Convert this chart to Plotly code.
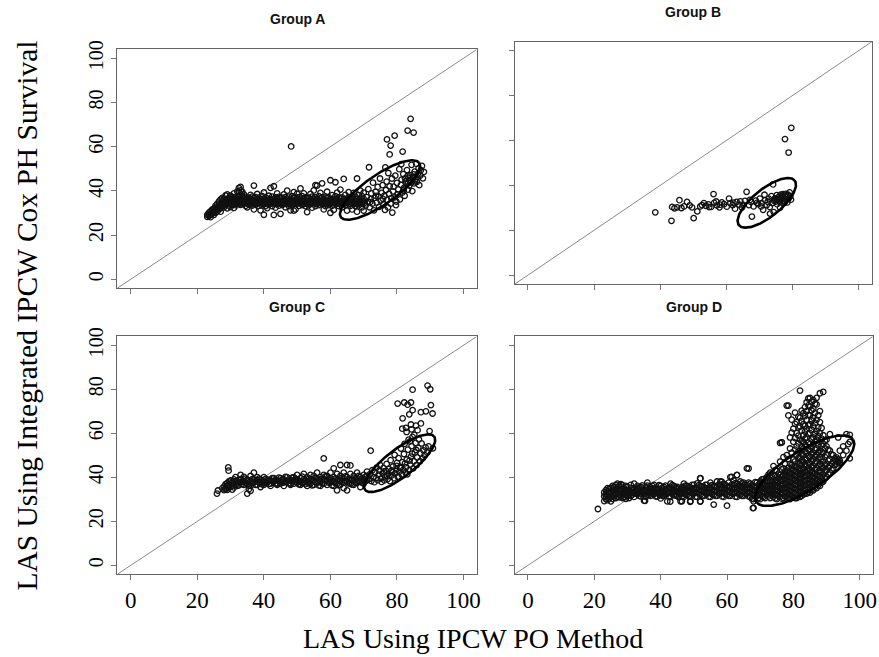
import numpy as np
import plotly.graph_objects as go

W, H = 879, 657
AX_RANGE = [-4, 104]
TICKS = [0, 20, 40, 60, 80, 100]
TICK_TEXT = ["0", "20", "40", "60", "80", "100"]
TITLES = ["Group A", "Group B", "Group C", "Group D"]
X_TITLE = "LAS Using IPCW PO Method"
Y_TITLE = "LAS Using Integrated IPCW Cox PH Survival"

# ---------------- data ----------------
# dense bands: (x, [y values]) ; spread regions: (x, y) pairs

A_BAND = [
    (23, [28.2, 29.1]), (23.5, [28.6, 30.2, 29.4]), (24, [29.3, 30.8, 28.1]),
    (24.5, [29.8, 31.6, 30.5]), (25, [30.4, 32.1, 29.2, 31.3]), (25.5, [31.2, 33.3, 30.1]),
    (26, [30.7, 32.6, 34.1, 31.8]), (26.5, [31.6, 33.4, 35.2, 32.5]),
    (27, [32.2, 34.3, 30.6, 36.1, 33.1]), (27.5, [33.2, 35.1, 36.8, 34.2]),
    (28, [32.6, 34.7, 36.3, 33.8, 35.6]), (28.5, [33.6, 35.4, 37.9, 34.5]),
    (29, [32.1, 34.2, 36.2, 38.4, 35.3]), (29.5, [33.3, 35.2, 36.9, 34.1]),
    (30, [34.1, 36.3, 32.7, 37.8, 35.4]), (30.5, [33.7, 35.8, 37.2, 34.6]),
    (31, [34.6, 36.4, 32.3, 38.9, 35.5]), (31.5, [35.2, 36.8, 33.6, 34.3]),
    (32, [34.2, 36.1, 37.7, 39.8, 35.1]), (32.5, [35.3, 37.4, 39.6, 41.3, 36.2, 34.1]),
    (33, [33.7, 36.2, 38.3, 41.8, 35.1, 40.2]), (33.5, [35.2, 36.9, 39.7, 34.3, 37.8]),
    (34, [34.3, 36.6, 38.4, 35.4]), (34.5, [33.2, 35.7, 37.3, 34.6]),
    (35, [34.8, 36.2, 32.6, 35.6]), (35.5, [35.1, 36.9, 33.7, 34.2]),
    (36, [34.1, 36.3, 38.2, 35.2]), (36.5, [35.6, 33.3, 37.4, 34.7]),
    (37, [34.4, 36.7, 31.6, 42.4, 35.5]), (37.5, [35.3, 37.2, 33.8, 34.1]),
    (38, [34.2, 36.1, 38.6, 35.3]), (38.5, [35.7, 33.2, 36.8, 34.6]),
    (39, [34.6, 36.4, 31.2, 35.4]), (39.5, [35.2, 37.6, 33.4, 34.3]),
    (40, [34.1, 36.2, 39.3, 29.2, 35.3]), (40.5, [35.4, 33.1, 37.1, 34.4]),
    (41, [34.7, 36.6, 32.2, 35.6]), (41.5, [35.1, 37.8, 33.7, 34.2]),
    (42, [34.3, 36.2, 41.4, 35.4]), (42.5, [35.6, 33.1, 37.4, 34.5]),
    (43, [34.5, 36.3, 42.1, 29.1, 35.3]), (43.5, [35.2, 37.1, 32.4, 34.1]),
    (44, [34.1, 36.4, 38.9, 35.2]), (44.5, [35.7, 33.3, 37.3, 34.5]),
    (45, [34.4, 36.6, 29.6, 35.4]), (45.5, [35.1, 36.9, 33.6, 34.2]),
    (46, [34.2, 36.1, 38.4, 35.2]), (46.5, [35.5, 32.6, 37.2, 34.3]),
    (47, [34.6, 36.4, 40.1, 35.5]), (47.5, [35.2, 37.4, 33.1, 34.1]),
    (48, [34.1, 36.2, 31.2, 35.3]), (48.5, [35.6, 33.6, 37.6, 34.4]),
    (49, [34.3, 36.7, 39.4, 31.1, 35.4]), (49.5, [35.1, 37.1, 31.6, 34.2]),
    (50, [34.2, 36.1, 38.7, 35.3]), (50.5, [35.4, 33.2, 37.2, 34.5]),
    (51, [34.7, 36.4, 41.1, 35.6]), (51.5, [35.2, 37.6, 33.6, 34.1]),
    (52, [34.1, 36.2, 38.9, 35.2]), (52.5, [35.6, 33.1, 37.1, 34.4]),
    (53, [34.4, 36.6, 30.4, 35.4]), (53.5, [35.1, 36.9, 33.4, 34.2]),
    (54, [34.2, 36.1, 38.6, 35.3]), (54.5, [35.7, 32.4, 37.4, 34.6]),
    (55, [34.6, 36.4, 40.2, 35.4]), (55.5, [35.2, 37.2, 33.1, 42.6, 34.1]),
    (56, [34.1, 36.2, 42.4, 35.2]), (56.5, [35.4, 33.6, 37.6, 34.5]),
    (57, [34.6, 36.6, 39.1, 35.5]), (57.5, [35.1, 37.1, 43.4, 34.2]),
    (58, [34.2, 36.1, 31.6, 35.3]), (58.5, [35.5, 33.1, 37.4, 34.4]),
    (59, [34.4, 36.7, 39.6, 35.4]), (59.5, [35.2, 37.2, 33.6, 34.1]),
    (60, [34.1, 36.3, 44.8, 30.1, 35.2]), (60.5, [35.6, 33.2, 38.1, 34.5]),
    (61, [34.6, 36.4, 31.4, 35.6]), (61.5, [35.1, 37.6, 43.9, 34.2]),
    (62, [34.2, 36.1, 39.2, 35.3]), (62.5, [35.5, 33.1, 37.1, 34.4]),
    (63, [34.4, 36.6, 40.6, 35.4]), (63.5, [35.2, 37.1, 32.6, 34.1]),
    (64, [34.1, 36.2, 45.4, 35.2]), (64.5, [35.6, 33.6, 38.2, 34.5]),
    (65, [34.6, 36.5, 31.1, 35.6]), (65.5, [35.1, 37.2, 39.4, 34.2]),
    (66, [34.2, 36.6, 33.2, 35.4]), (66.5, [35.4, 37.6, 31.6, 34.4]),
    (67, [34.5, 36.1, 39.1, 35.5]), (67.5, [35.2, 37.4, 33.1, 34.1]),
    (68, [34.1, 36.4, 45.6, 30.6, 35.2]), (68.5, [35.6, 38.1, 33.4, 34.4]),
    (69, [34.6, 36.6, 40.1, 35.4]), (69.5, [35.1, 37.6, 32.6, 34.2]),
    (70, [34.2, 36.4, 39.2, 31.1, 35.3]),
]
A_SPREAD = [
    (70.6, 33.4), (70.9, 37.2), (71.3, 35.1), (71.4, 40.8), (71.8, 32.6), (72.1, 36.3),
    (72.3, 38.9), (72.6, 34.2), (72.8, 43.7), (73.1, 31.2), (73.3, 36.8), (73.6, 39.6),
    (73.9, 34.7), (74.2, 41.8), (74.4, 37.5), (74.6, 32.8), (74.9, 45.6), (75.1, 35.6),
    (75.4, 39.1), (75.7, 42.6), (75.9, 33.9), (76.2, 37.8), (76.4, 31.4), (76.7, 40.4),
    (76.9, 44.2), (77.1, 35.9), (77.4, 48.1), (77.6, 38.7), (77.8, 42.1), (78.1, 34.2),
    (78.3, 36.7), (78.5, 45.6), (78.8, 39.8), (79.0, 41.9), (79.3, 37.1), (79.5, 46.9),
    (79.7, 33.6), (80.0, 43.6), (80.2, 38.4), (80.4, 40.7), (80.7, 49.8), (80.9, 36.2),
    (81.2, 42.7), (81.4, 45.1), (81.6, 39.2), (81.9, 47.6), (82.1, 41.3), (82.3, 37.8),
    (82.6, 44.2), (82.8, 43.1), (83.0, 49.4), (83.3, 40.6), (83.5, 45.9), (83.7, 42.4),
    (84.0, 47.1), (84.2, 44.6), (84.4, 51.8), (84.6, 39.9), (84.9, 46.3), (85.1, 43.4),
    (85.3, 48.7), (85.6, 45.2), (85.8, 52.3), (86.0, 44.1), (86.3, 47.8), (86.5, 50.2),
    (86.7, 42.6), (87.0, 46.9), (87.2, 49.4), (87.5, 51.3), (87.8, 45.7), (88.1, 48.6),
    (83.8, 44.9), (84.8, 45.8), (85.4, 44.3), (83.2, 46.8), (82.4, 45.7), (86.1, 46.2),
    (79.8, 35.2), (77.3, 32.5), (75.8, 36.4), (73.7, 37.7), (71.9, 34.9), (76.5, 50.6),
    (81.3, 52.1), (78.6, 30.2), (84.3, 43.8), (85.0, 47.5), (83.4, 43.7), (82.0, 40.2),
    (48.2, 60.1), (84.1, 72.6), (83.2, 67.3), (85.0, 66.4), (77.0, 63.3), (79.3, 65.0),
    (78.1, 60.5), (81.7, 57.8), (77.8, 56.5), (71.6, 50.7),
]

B_BAND = []
B_SPREAD = [
    (38.5, 28.0), (43.4, 24.2), (43.6, 30.4), (44.3, 29.8), (45.1, 30.2), (45.8, 33.4),
    (46.4, 29.9), (47.2, 30.6), (48.1, 32.6), (48.9, 31.1), (50.1, 25.4), (51.2, 28.4),
    (52.1, 30.6), (53.2, 32.1), (53.8, 30.9), (54.6, 31.5), (55.4, 30.4), (56.1, 36.1),
    (56.3, 32.2), (57.1, 31.1), (57.9, 30.2), (58.6, 32.4), (59.3, 31.6), (60.1, 30.5),
    (60.8, 34.1), (61.2, 32.1), (61.9, 31.2), (62.6, 29.6), (63.1, 32.6), (63.9, 31.4),
    (64.7, 30.1), (65.6, 33.1), (66.1, 37.1), (66.8, 31.2), (67.4, 32.6), (67.7, 26.1),
    (68.2, 30.6), (68.9, 33.2), (69.6, 31.6), (70.1, 34.1), (70.6, 32.1), (71.1, 29.1),
    (71.7, 33.4), (72.2, 31.2), (72.8, 34.1), (73.1, 30.4), (73.2, 27.4), (73.6, 35.2),
    (73.9, 32.1), (74.1, 40.4), (74.3, 28.1), (74.4, 33.1), (74.7, 34.2), (74.9, 32.8),
    (75.2, 35.6), (75.3, 31.6), (75.6, 33.6), (75.8, 34.8), (76.1, 32.6), (76.2, 30.1),
    (76.5, 33.9), (76.7, 35.2), (76.9, 33.1), (77.1, 36.1), (77.3, 34.4), (77.5, 32.2),
    (77.6, 35.4), (77.8, 33.6), (78.0, 36.2), (78.2, 34.9), (78.4, 32.4), (78.6, 35.8),
    (78.8, 34.1), (79.1, 36.9), (79.3, 35.1), (79.5, 33.6), (74.6, 34.0), (75.9, 33.2),
    (77.0, 34.6), (76.4, 35.9), (75.4, 33.9), (77.9, 35.1), (54.8, 30.3), (52.6, 31.2),
    (49.6, 30.2), (56.9, 32.8), (58.1, 31.4), (62.1, 32.3), (64.2, 32.9), (65.1, 31.3),
    (67.1, 33.5), (69.2, 32.2), (70.5, 30.6), (72.5, 32.7), (71.5, 35.8),
    (77.7, 60.6), (79.6, 65.6), (78.8, 54.6),
]

C_BAND = [
    (28, [34.2, 35.8]), (28.5, [35.1, 36.9, 34.6]), (29, [34.3, 36.2, 37.4]),
    (29.5, [35.2, 36.6, 38.1]), (30, [35.7, 37.1, 38.6]), (30.5, [36.2, 37.6, 34.4]),
    (31, [35.4, 37.2, 39.1]), (31.5, [36.6, 38.2, 40.1]), (32, [37.1, 38.4, 36.1]),
    (32.5, [36.4, 38.9, 37.6]), (33, [37.6, 39.2, 41.1]), (33.5, [36.9, 38.1]),
    (34, [36.6, 38.2, 40.2]), (34.5, [37.4, 39.4]), (35, [37.1, 38.9, 32.6]),
    (35.5, [36.2, 38.6, 34.6]), (36, [38.1, 36.1, 40.6, 33.9]), (36.5, [37.3, 39.2]),
    (37, [37.6, 39.1, 42.1]), (37.5, [38.4, 36.6]), (38, [36.6, 38.6, 40.1]),
    (38.5, [37.7, 39.4]), (39, [37.1, 39.1, 35.6]), (39.5, [38.3, 36.8]),
    (40, [38.1, 36.6, 40.1]), (40.5, [37.4, 39.3]), (41, [37.6, 39.1]),
    (41.5, [38.4, 36.9]), (42, [37.1, 38.6, 36.1]), (42.5, [38.2, 39.6]),
    (43, [38.1, 39.6]), (43.5, [37.2, 38.8]), (44, [37.1, 38.6, 36.6]),
    (44.5, [38.4, 39.9]), (45, [38.1, 39.6, 37.1]), (45.5, [37.6, 38.9]),
    (46, [37.6, 39.1, 36.1]), (46.5, [38.3, 40.2]), (47, [38.1, 40.1]),
    (47.5, [37.4, 39.1]), (48, [37.1, 38.6, 36.6]), (48.5, [38.4, 39.8]),
    (49, [38.6, 40.1, 37.1]), (49.5, [37.8, 39.4]), (50, [37.6, 39.1, 41.1]),
    (50.5, [38.3, 36.8]), (51, [38.1, 36.6, 39.6]), (51.5, [37.4, 40.3]),
    (52, [37.6, 39.1, 41.6]), (52.5, [38.6, 36.9]), (53, [38.1, 40.1, 36.1]),
    (53.5, [37.3, 39.4]), (54, [37.1, 39.1, 41.1]), (54.5, [38.2, 36.4]),
    (55, [38.6, 40.6, 36.6]), (55.5, [37.8, 39.7]), (56, [37.6, 39.6, 42.1]),
    (56.5, [38.7, 36.3]), (57, [38.1, 40.1, 36.1]), (57.5, [37.2, 39.3]),
    (58, [37.1, 39.1, 41.1, 48.6]), (58.5, [38.4, 40.4]), (59, [38.6, 40.6, 36.6]),
    (59.5, [37.6, 39.2]), (60, [37.6, 39.6, 42.1]), (60.5, [38.3, 36.4]),
    (61, [38.1, 40.1, 36.1, 44.1]), (61.5, [37.4, 39.4]), (62, [37.1, 39.1, 34.1, 41.6]),
    (62.5, [38.6, 36.6]), (63, [38.6, 40.6, 36.6, 45.6]), (63.5, [37.8, 39.7]),
    (64, [37.6, 39.6, 42.1, 35.1]), (64.5, [38.4, 40.4]), (65, [38.1, 40.1, 34.1, 45.6]),
    (65.5, [37.2, 39.2]), (66, [37.1, 39.1, 41.6, 45.4]), (66.5, [38.7, 36.7]),
    (67, [38.6, 40.6, 36.6]), (67.5, [37.6, 39.6]), (68, [37.6, 39.6, 42.1]),
    (68.5, [38.4, 40.6]), (69, [38.1, 40.1, 35.6]), (69.5, [37.6, 39.3]),
    (70, [39.1, 41.1, 37.1]), (70.5, [38.2, 40.2]), (71, [38.6, 40.6, 42.6]),
]
C_SPREAD = [
    (25.9, 32.6), (26.2, 34.0), (27.5, 35.0), (29.3, 44.5), (29.4, 43.0),
    (71.6, 39.2), (71.9, 41.4), (72.1, 52.1), (72.3, 38.3), (72.6, 43.2), (72.9, 40.1),
    (73.2, 37.8), (73.4, 42.3), (73.7, 39.6), (73.9, 44.4), (74.2, 38.7), (74.5, 41.2),
    (74.7, 43.1), (74.9, 45.6), (75.2, 39.4), (75.4, 37.9), (75.7, 41.8), (75.9, 44.2),
    (76.2, 38.6), (76.4, 40.4), (76.7, 42.9), (76.9, 46.1), (77.2, 39.2), (77.4, 41.6),
    (77.6, 43.8), (77.9, 38.3), (78.1, 47.8), (78.3, 40.8), (78.6, 42.4), (78.8, 44.9),
    (79.1, 39.6), (79.3, 50.2), (79.5, 41.9), (79.8, 43.6), (80.0, 46.6), (80.2, 40.3),
    (80.5, 48.7), (80.7, 42.6), (80.9, 44.5), (81.2, 53.1), (81.4, 41.3), (81.6, 46.9),
    (81.9, 43.4), (82.1, 50.6), (82.3, 55.2), (82.6, 42.1), (82.8, 44.6), (83.0, 48.1),
    (83.3, 52.6), (83.5, 57.1), (83.7, 43.3), (84.0, 45.8), (84.2, 49.4), (84.4, 54.2),
    (84.7, 58.4), (84.9, 44.1), (85.1, 47.2), (85.4, 51.3), (85.6, 55.6), (85.9, 45.6),
    (86.1, 49.1), (86.4, 53.4), (86.6, 57.2), (86.9, 47.3), (87.1, 50.9), (87.4, 55.4),
    (87.7, 48.6), (88.0, 52.2), (88.3, 50.1), (88.6, 53.6), (89.1, 51.2), (89.5, 54.1),
    (90.8, 53.2), (81.1, 44.2), (82.4, 46.3), (83.8, 47.6), (84.6, 50.8), (85.8, 52.4),
    (79.9, 45.2), (78.4, 43.1), (77.0, 40.8), (76.1, 42.7), (83.9, 56.3), (85.2, 59.3),
    (82.9, 60.6), (84.4, 61.8), (86.2, 61.4), (81.6, 62.1), (80.6, 40.1), (83.1, 41.4),
    (84.7, 70.5), (89.2, 81.7), (90.0, 80.0), (84.7, 79.8), (80.2, 73.5), (82.2, 74.0),
    (83.2, 73.0), (84.2, 74.0), (90.2, 72.8), (87.2, 69.6), (88.7, 70.0), (90.7, 69.0),
    (83.7, 68.6), (81.7, 66.8), (84.2, 64.0), (85.7, 63.5), (87.2, 64.5), (82.7, 62.5),
    (89.8, 61.0),
]

D_BAND = [
    (23, [29.2, 31.3, 33.1]), (23.5, [30.1, 32.4, 34.2, 31.1]), (24, [29.6, 31.7, 33.6, 35.1]),
    (24.5, [30.4, 32.6, 34.7, 33.2]), (25, [31.1, 33.3, 35.2, 29.1]),
    (25.5, [30.2, 32.1, 34.3, 36.1]), (26, [31.6, 33.7, 35.6, 32.4]),
    (26.5, [30.6, 32.8, 34.4, 36.6]), (27, [31.2, 33.1, 35.3, 37.1]),
    (27.5, [32.2, 34.1, 36.2, 30.9]), (28, [31.4, 33.6, 35.4, 36.9]),
    (28.5, [30.6, 32.4, 34.6, 36.4]), (29, [31.1, 33.2, 35.1, 34.1]),
    (29.5, [32.1, 34.2, 36.1, 30.2]), (30, [31.6, 33.4, 35.6, 32.6]),
    (30.5, [32.2, 34.1, 30.6, 33.3]), (31, [33.1, 35.2, 31.6, 36.6]),
    (31.5, [32.1, 34.3, 33.2]), (32, [33.2, 35.1, 31.1, 37.1]), (32.5, [32.6, 34.4, 33.6]),
    (33, [32.4, 34.6, 36.1, 33.4]), (33.5, [31.6, 33.2, 35.4]),
    (34, [31.4, 33.6, 35.6, 32.6]), (34.5, [32.9, 34.2, 36.3]),
    (35, [32.6, 34.4, 29.4, 33.5]), (35.5, [31.1, 33.4, 35.6]),
    (36, [32.1, 34.1, 36.2, 37.6]), (36.5, [33.2, 34.9, 31.9]),
    (37, [31.6, 33.6, 35.4, 32.7]), (37.5, [32.8, 34.7, 36.1]),
    (38, [32.4, 34.6, 36.6, 33.5]), (38.5, [31.4, 33.3, 35.2]),
    (39, [31.2, 33.1, 35.1, 34.2]), (39.5, [32.3, 34.5, 36.4]),
    (40, [32.1, 34.1, 36.1, 30.4]), (40.5, [33.2, 35.2, 31.6]),
    (41, [31.6, 33.4, 35.6, 32.7]), (41.5, [32.4, 34.4, 36.2]),
    (42, [32.6, 34.6, 29.1, 33.6]), (42.5, [31.3, 33.1, 35.4]),
    (43, [31.1, 33.2, 35.1, 37.1]), (43.5, [32.4, 34.3, 36.4]),
    (44, [32.1, 34.1, 36.1, 33.2]), (44.5, [31.7, 33.6, 35.3]),
    (45, [31.6, 33.5, 35.6, 34.6]), (45.5, [32.6, 34.8, 30.9]),
    (46, [32.4, 34.4, 29.1, 33.4]), (46.5, [31.4, 33.2, 35.6]),
    (47, [31.1, 33.1, 35.1, 37.1]), (47.5, [32.2, 34.6, 36.2]),
    (48, [32.1, 34.1, 36.1, 33.3]), (48.5, [31.4, 33.7, 35.2]),
    (49, [31.6, 33.6, 35.4, 29.2]), (49.5, [32.7, 34.5, 36.6]),
    (50, [32.6, 34.6, 36.6, 33.5]), (50.5, [31.2, 33.3, 35.3]),
    (51, [31.1, 33.1, 35.1, 37.2]), (51.5, [32.5, 34.4, 36.4]),
    (52, [32.1, 34.1, 36.1, 39.6, 29.1]), (52.5, [31.6, 33.6, 35.6]),
    (53, [31.6, 33.4, 35.6, 34.5]), (53.5, [32.8, 34.8, 36.6]),
    (54, [32.6, 34.6, 36.6, 33.4]), (54.5, [31.2, 33.2, 35.2]),
    (55, [31.1, 33.1, 35.1, 37.6]), (55.5, [32.4, 34.4, 36.4]),
    (56, [32.1, 34.1, 36.1, 27.6]), (56.5, [31.6, 33.6, 35.7]),
    (57, [31.6, 33.6, 35.6, 38.1]), (57.5, [32.7, 34.7, 36.7]),
    (58, [32.6, 34.6, 36.6, 38.1]), (58.5, [31.3, 33.3, 35.3]),
    (59, [31.1, 33.1, 35.1, 37.1]), (59.5, [32.4, 34.4, 36.4]),
    (60, [32.1, 34.1, 36.1, 27.1]), (60.5, [31.6, 33.6, 35.6, 37.6]),
    (61, [31.6, 33.6, 35.6, 40.1]), (61.5, [32.8, 34.8, 36.8]),
    (62, [32.6, 34.6, 36.6, 38.6]), (62.5, [31.2, 33.2, 35.2, 37.4]),
    (63, [31.1, 33.1, 35.1, 37.1, 41.1]), (63.5, [32.4, 34.4, 36.4]),
    (64, [32.1, 34.1, 36.1, 38.1]), (64.5, [31.6, 33.6, 35.6, 37.3]),
    (65, [31.6, 33.6, 35.6, 37.6]), (65.5, [32.6, 34.6, 36.6]),
    (66, [32.6, 34.6, 36.6, 44.1]), (66.5, [31.3, 33.3, 35.3, 37.6]),
    (67, [31.1, 33.1, 35.1, 37.1]), (67.5, [32.4, 34.4, 36.4, 30.2]),
    (68, [30.1, 32.1, 34.1, 36.1, 26.1, 29.1]), (68.5, [31.6, 33.6, 35.6, 37.8]),
    (69, [31.6, 33.6, 35.6, 37.6]), (69.5, [32.7, 34.7, 36.7, 30.6]),
    (70, [32.1, 34.1, 36.1, 38.1, 30.1]),
    (70.5, [31.4, 33.7, 35.2, 37.3, 39.1]), (71, [31.1, 33.2, 35.1, 37.1, 39.2]),
    (71.5, [30.6, 32.8, 34.6, 36.4, 38.5]), (72, [32.1, 34.1, 36.1, 38.1, 40.1]),
    (72.5, [31.3, 33.4, 35.7, 37.6, 41.2]), (73, [30.6, 32.6, 34.6, 36.6, 38.6, 42.1]),
    (73.5, [31.8, 33.9, 35.9, 37.9, 40.3]), (74, [31.1, 33.1, 35.1, 37.1, 39.1, 45.1]),
    (74.5, [30.4, 32.3, 34.3, 36.4, 38.3, 40.8, 43.2]),
    (75, [30.1, 32.1, 34.1, 36.1, 38.1, 40.1, 42.9]),
    (75.5, [31.6, 33.6, 35.6, 37.6, 39.6, 41.7]),
    (76, [31.1, 33.1, 35.1, 37.1, 39.1, 41.1, 47.1, 55.6]),
    (76.5, [30.3, 32.4, 34.4, 36.4, 38.4, 40.4, 43.6, 55.9]),
    (77, [30.6, 32.6, 34.6, 36.6, 38.6, 40.6, 44.1, 49.2]),
    (77.5, [31.3, 33.3, 35.3, 37.3, 39.3, 41.3, 42.8, 46.1]),
    (78, [31.1, 33.1, 35.1, 37.1, 39.1, 41.1, 43.1, 50.1, 72.6]),
    (78.5, [30.4, 32.2, 34.2, 36.2, 38.2, 40.2, 42.2, 44.4, 48.3, 68.1]),
    (79, [30.1, 32.1, 34.1, 36.1, 38.1, 40.1, 42.1, 46.1, 53.1, 58.1]),
    (79.5, [31.5, 33.5, 35.5, 37.5, 39.5, 41.5, 43.7, 45.6, 51.2, 60.3, 66.2]),
    (80, [31.1, 33.1, 35.1, 37.1, 39.1, 41.1, 43.1, 45.1, 48.1, 56.1, 62.1]),
    (80.5, [30.6, 32.6, 34.6, 36.6, 38.6, 40.6, 42.6, 44.6, 47.2, 52.6, 57.8, 64.3, 69.4]),
    (81, [30.6, 32.6, 34.6, 36.6, 38.6, 40.6, 42.6, 45.1, 50.1, 54.1, 60.1, 65.1]),
    (81.5, [31.8, 33.8, 35.8, 37.8, 39.8, 41.8, 43.8, 46.2, 48.8, 51.7, 55.4, 58.9, 62.6, 67.6]),
    (82, [31.1, 33.1, 35.1, 37.1, 39.1, 41.1, 43.1, 46.1, 49.1, 52.1, 57.1, 63.1, 67.1, 79.4]),
    (82.5, [31.6, 33.4, 35.4, 37.4, 39.4, 41.4, 43.6, 45.6, 47.7, 50.6, 53.8, 56.4, 61.2, 65.4, 70.3]),
    (83, [32.1, 34.1, 36.1, 38.1, 40.1, 42.1, 44.1, 47.1, 50.1, 53.1, 56.1, 59.1, 64.1, 69.1]),
    (83.5, [32.6, 34.6, 36.6, 38.6, 40.6, 42.6, 45.6, 48.4, 51.6, 54.7, 57.6, 60.8, 63.4, 67.8, 71.9]),
    (84, [32.6, 34.6, 36.6, 38.6, 40.6, 43.1, 45.1, 48.1, 51.1, 54.1, 58.1, 62.1, 66.1, 70.1, 74.1]),
    (84.5, [33.4, 35.4, 37.4, 39.4, 41.4, 44.2, 46.6, 49.6, 52.6, 55.8, 59.6, 63.6, 68.4, 72.7, 75.8]),
    (85, [33.1, 35.1, 37.1, 39.1, 41.1, 43.1, 46.1, 49.1, 52.1, 55.1, 60.1, 64.1, 68.1, 72.1, 76.1]),
    (85.5, [34.2, 36.2, 38.2, 40.2, 42.2, 44.6, 47.4, 50.4, 53.6, 57.2, 61.6, 65.8, 70.4, 74.4]),
    (86, [34.1, 36.1, 38.1, 40.1, 42.1, 45.1, 48.1, 51.1, 55.1, 58.1, 63.1, 67.1, 71.1, 75.1]),
    (86.5, [35.4, 37.4, 39.4, 41.6, 43.6, 46.6, 49.6, 52.6, 56.2, 59.8, 64.6, 69.2, 73.4]),
    (87, [35.1, 37.1, 39.1, 41.1, 44.1, 47.1, 50.1, 53.1, 57.1, 61.1, 66.1, 73.1, 76.1]),
    (87.5, [36.4, 38.4, 40.6, 42.6, 45.4, 48.6, 51.4, 54.6, 58.6, 62.6, 68.2]),
    (88, [36.1, 38.1, 40.1, 43.1, 46.1, 49.1, 52.1, 56.1, 60.1, 65.1, 70.1, 78.2]),
    (88.5, [37.6, 39.6, 42.4, 45.2, 48.4, 51.6, 54.4, 57.6, 62.4]),
    (89, [38.1, 41.1, 44.1, 47.1, 51.1, 55.1, 59.1, 78.8]),
    (89.5, [39.4, 42.6, 45.6, 49.2, 53.2, 56.6]), (90, [40.1, 43.1, 46.1, 50.1, 54.1, 57.1]),
    (90.5, [41.6, 44.6, 47.6, 52.6]), (91, [42.1, 45.1, 48.1, 52.1, 59.6]),
    (91.5, [43.4, 46.2, 50.4]), (92, [44.1, 47.1, 50.1]), (92.5, [45.6, 48.6]),
    (93, [46.1, 49.1, 47.4]), (93.5, [47.1, 48.1, 46.6, 58.1]), (94, [46.6, 47.6, 52.1]),
    (95, [50.1, 54.1]), (96, [52.1, 59.6]), (96.5, [55.1]), (97, [48.6, 56.1, 59.3]),
]
D_SPREAD = [
    (21.1, 25.6), (35.3, 29.3), (42.9, 29.0), (46.4, 29.1), (48.9, 28.9), (51.9, 29.0),
    (51.9, 39.5), (58.4, 38.0), (61.4, 40.2), (63.0, 41.0), (66.5, 44.0), (67.8, 26.0),
    (76.5, 55.9), (78.5, 72.6),
]

# ellipse annotations: centre (data units), semi-axes (px), tilt (deg)
ELLIPSES = [
    (74.9, 40.4, 48, 15, 35),
    (72.2, 32.2, 36, 14, 39),
    (80.8, 46.4, 44, 14, 38),
    (83.4, 43.0, 58, 20, 33),
]

ALL_BANDS = [A_BAND, B_BAND, C_BAND, D_BAND]
ALL_SPREAD = [A_SPREAD, B_SPREAD, C_SPREAD, D_SPREAD]

# ---------------- layout geometry (px) ----------------
BOXES = [  # left, right, top, bottom
    (118, 479, 41, 283),
    (517, 876, 33, 279),
    (118, 479, 332, 573),
    (517, 877, 332, 573),
]
TITLE_MID = [10, 3, 302, 302]

fig = go.Figure()
SERIF = "Liberation Serif, Times New Roman, serif"
SANS = "Liberation Sans, Arial, sans-serif"

for i in range(4):
    xs, ys = [], []
    for x, yl in ALL_BANDS[i]:
        for y in yl:
            xs.append(x)
            ys.append(y)
    for x, y in ALL_SPREAD[i]:
        xs.append(x)
        ys.append(y)
    sfx = "" if i == 0 else str(i + 1)
    fig.add_trace(go.Scatter(
        x=xs, y=ys, mode="markers", xaxis="x" + sfx, yaxis="y" + sfx,
        marker=dict(symbol="circle-open", size=5.5, color="#111111",
                    line=dict(width=1.3, color="#111111")),
        showlegend=False, hoverinfo="skip"))

    l, r, t, b = BOXES[i]
    sx = (r - l) / (AX_RANGE[1] - AX_RANGE[0])
    sy = (b - t) / (AX_RANGE[1] - AX_RANGE[0])
    cx, cy, a, bb, ang = ELLIPSES[i]
    tt = np.linspace(0, 2 * np.pi, 181)
    th = np.deg2rad(ang)
    ex = cx + (a * np.cos(tt) * np.cos(th) - bb * np.sin(tt) * np.sin(th)) / sx
    ey = cy + (a * np.cos(tt) * np.sin(th) + bb * np.sin(tt) * np.cos(th)) / sy
    fig.add_trace(go.Scatter(
        x=ex, y=ey, mode="lines", xaxis="x" + sfx, yaxis="y" + sfx,
        line=dict(color="black", width=2.6), showlegend=False, hoverinfo="skip"))

    # identity line across the plotting region
    fig.add_shape(type="line", xref="x" + sfx, yref="y" + sfx,
                  x0=AX_RANGE[0], y0=AX_RANGE[0], x1=AX_RANGE[1], y1=AX_RANGE[1],
                  line=dict(color="#8a8a8a", width=1), layer="below")

    xa = dict(domain=[l / W, r / W], range=AX_RANGE, anchor="y" + sfx,
              tickvals=TICKS, ticktext=TICK_TEXT, ticks="outside", ticklen=5,
              tickcolor="#777", showline=True, mirror=True, linecolor="#666",
              linewidth=1, showgrid=False, zeroline=False,
              showticklabels=(i >= 2),
              tickfont=dict(family=SERIF, size=23, color="black"))
    ya = dict(domain=[1 - b / H, 1 - t / H], range=AX_RANGE, anchor="x" + sfx,
              tickvals=TICKS, ticktext=TICK_TEXT, ticks="outside", ticklen=5,
              tickcolor="#777", showline=True, mirror=True, linecolor="#666",
              linewidth=1, showgrid=False, zeroline=False,
              showticklabels=(i % 2 == 0), tickangle=-90,
              tickfont=dict(family=SERIF, size=20, color="black"))
    fig.layout["xaxis" + sfx] = xa
    fig.layout["yaxis" + sfx] = ya

    fig.add_annotation(text="<b>" + TITLES[i] + "</b>", xref="paper", yref="paper",
                       x=(l + r) / 2 / W, y=1 - TITLE_MID[i] / H, showarrow=False,
                       xanchor="center", yanchor="middle", borderpad=0,
                       font=dict(family=SANS, size=14, color="#111"))

fig.add_annotation(text=X_TITLE, xref="paper", yref="paper", x=475 / W, y=1 - 638 / H,
                   showarrow=False, xanchor="center", yanchor="middle",
                   font=dict(family=SERIF, size=28, color="black"))
fig.add_annotation(text=Y_TITLE, xref="paper", yref="paper", x=27 / W, y=1 - 311 / H,
                   showarrow=False, xanchor="center", yanchor="middle", textangle=-90,
                   font=dict(family=SERIF, size=29.5, color="black"))

fig.update_layout(width=W, height=H, margin=dict(l=0, r=0, t=0, b=0),
                  paper_bgcolor="white", plot_bgcolor="white")

fig.write_html("out.html")
